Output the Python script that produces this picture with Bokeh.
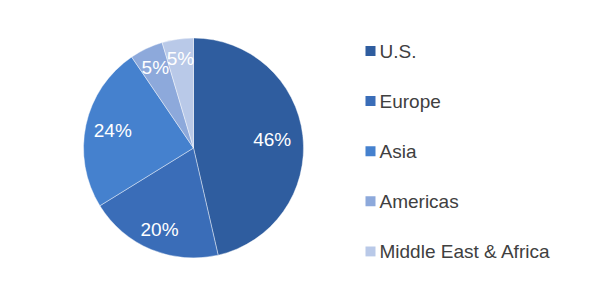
import math
from bokeh.plotting import figure
from bokeh.models import Range1d, ColumnDataSource
from bokeh.core.properties import value
from bokeh.embed import file_html
from bokeh.resources import INLINE

# Data
regions = ["U.S.", "Europe", "Asia", "Americas", "Middle East & Africa"]
shares = [46.4, 19.8, 24.3, 4.9, 4.6]
colors = ["#2F5D9F", "#3A6DB8", "#4581CE", "#8DA9DB", "#B9C9E8"]

# Styling
W, H = 600, 300
cx, cy, R = 193, 300 - 147.5, 110
label_r = [0.72, 0.80, 0.75, 0.81, 0.82]
FONT = value("Liberation Sans")

p = figure(width=W, height=H, output_backend="svg", toolbar_location=None,
           x_range=Range1d(0, W), y_range=Range1d(0, H), min_border=0)
p.axis.visible = False
p.grid.visible = False
p.outline_line_color = None
p.background_fill_color = "white"

total = sum(shares)
starts, ends, lx, ly, labels = [], [], [], [], []
a = math.pi / 2
for i, s in enumerate(shares):
    sweep = 2 * math.pi * s / total
    starts.append(a - sweep)
    ends.append(a)
    mid = a - sweep / 2
    lx.append(cx + label_r[i] * R * math.cos(mid))
    ly.append(cy + label_r[i] * R * math.sin(mid))
    labels.append(f"{round(100 * s / total)}%")
    a -= sweep

src = ColumnDataSource(dict(start=starts, end=ends, color=colors))
p.wedge(x=cx, y=cy, radius=R, start_angle="start", end_angle="end",
        fill_color="color", line_color="white", line_width=0.6, line_alpha=0.7,
        source=src)

p.text(x=lx, y=ly, text=labels, text_color="white", text_font=FONT,
       text_font_size="19px", text_align="center", text_baseline="middle")

# Legend
leg_y = [300 - (50.5 + 50.1 * i) for i in range(len(regions))]
p.rect(x=[370] * len(regions), y=leg_y, width=10, height=10,
       fill_color=colors, line_color=None)
p.text(x=[379] * len(regions), y=leg_y, text=regions, text_color="#404040",
       text_font=FONT, text_font_size="19px", text_align="left",
       text_baseline="middle")

open("out.html", "w").write(file_html(p, INLINE))
